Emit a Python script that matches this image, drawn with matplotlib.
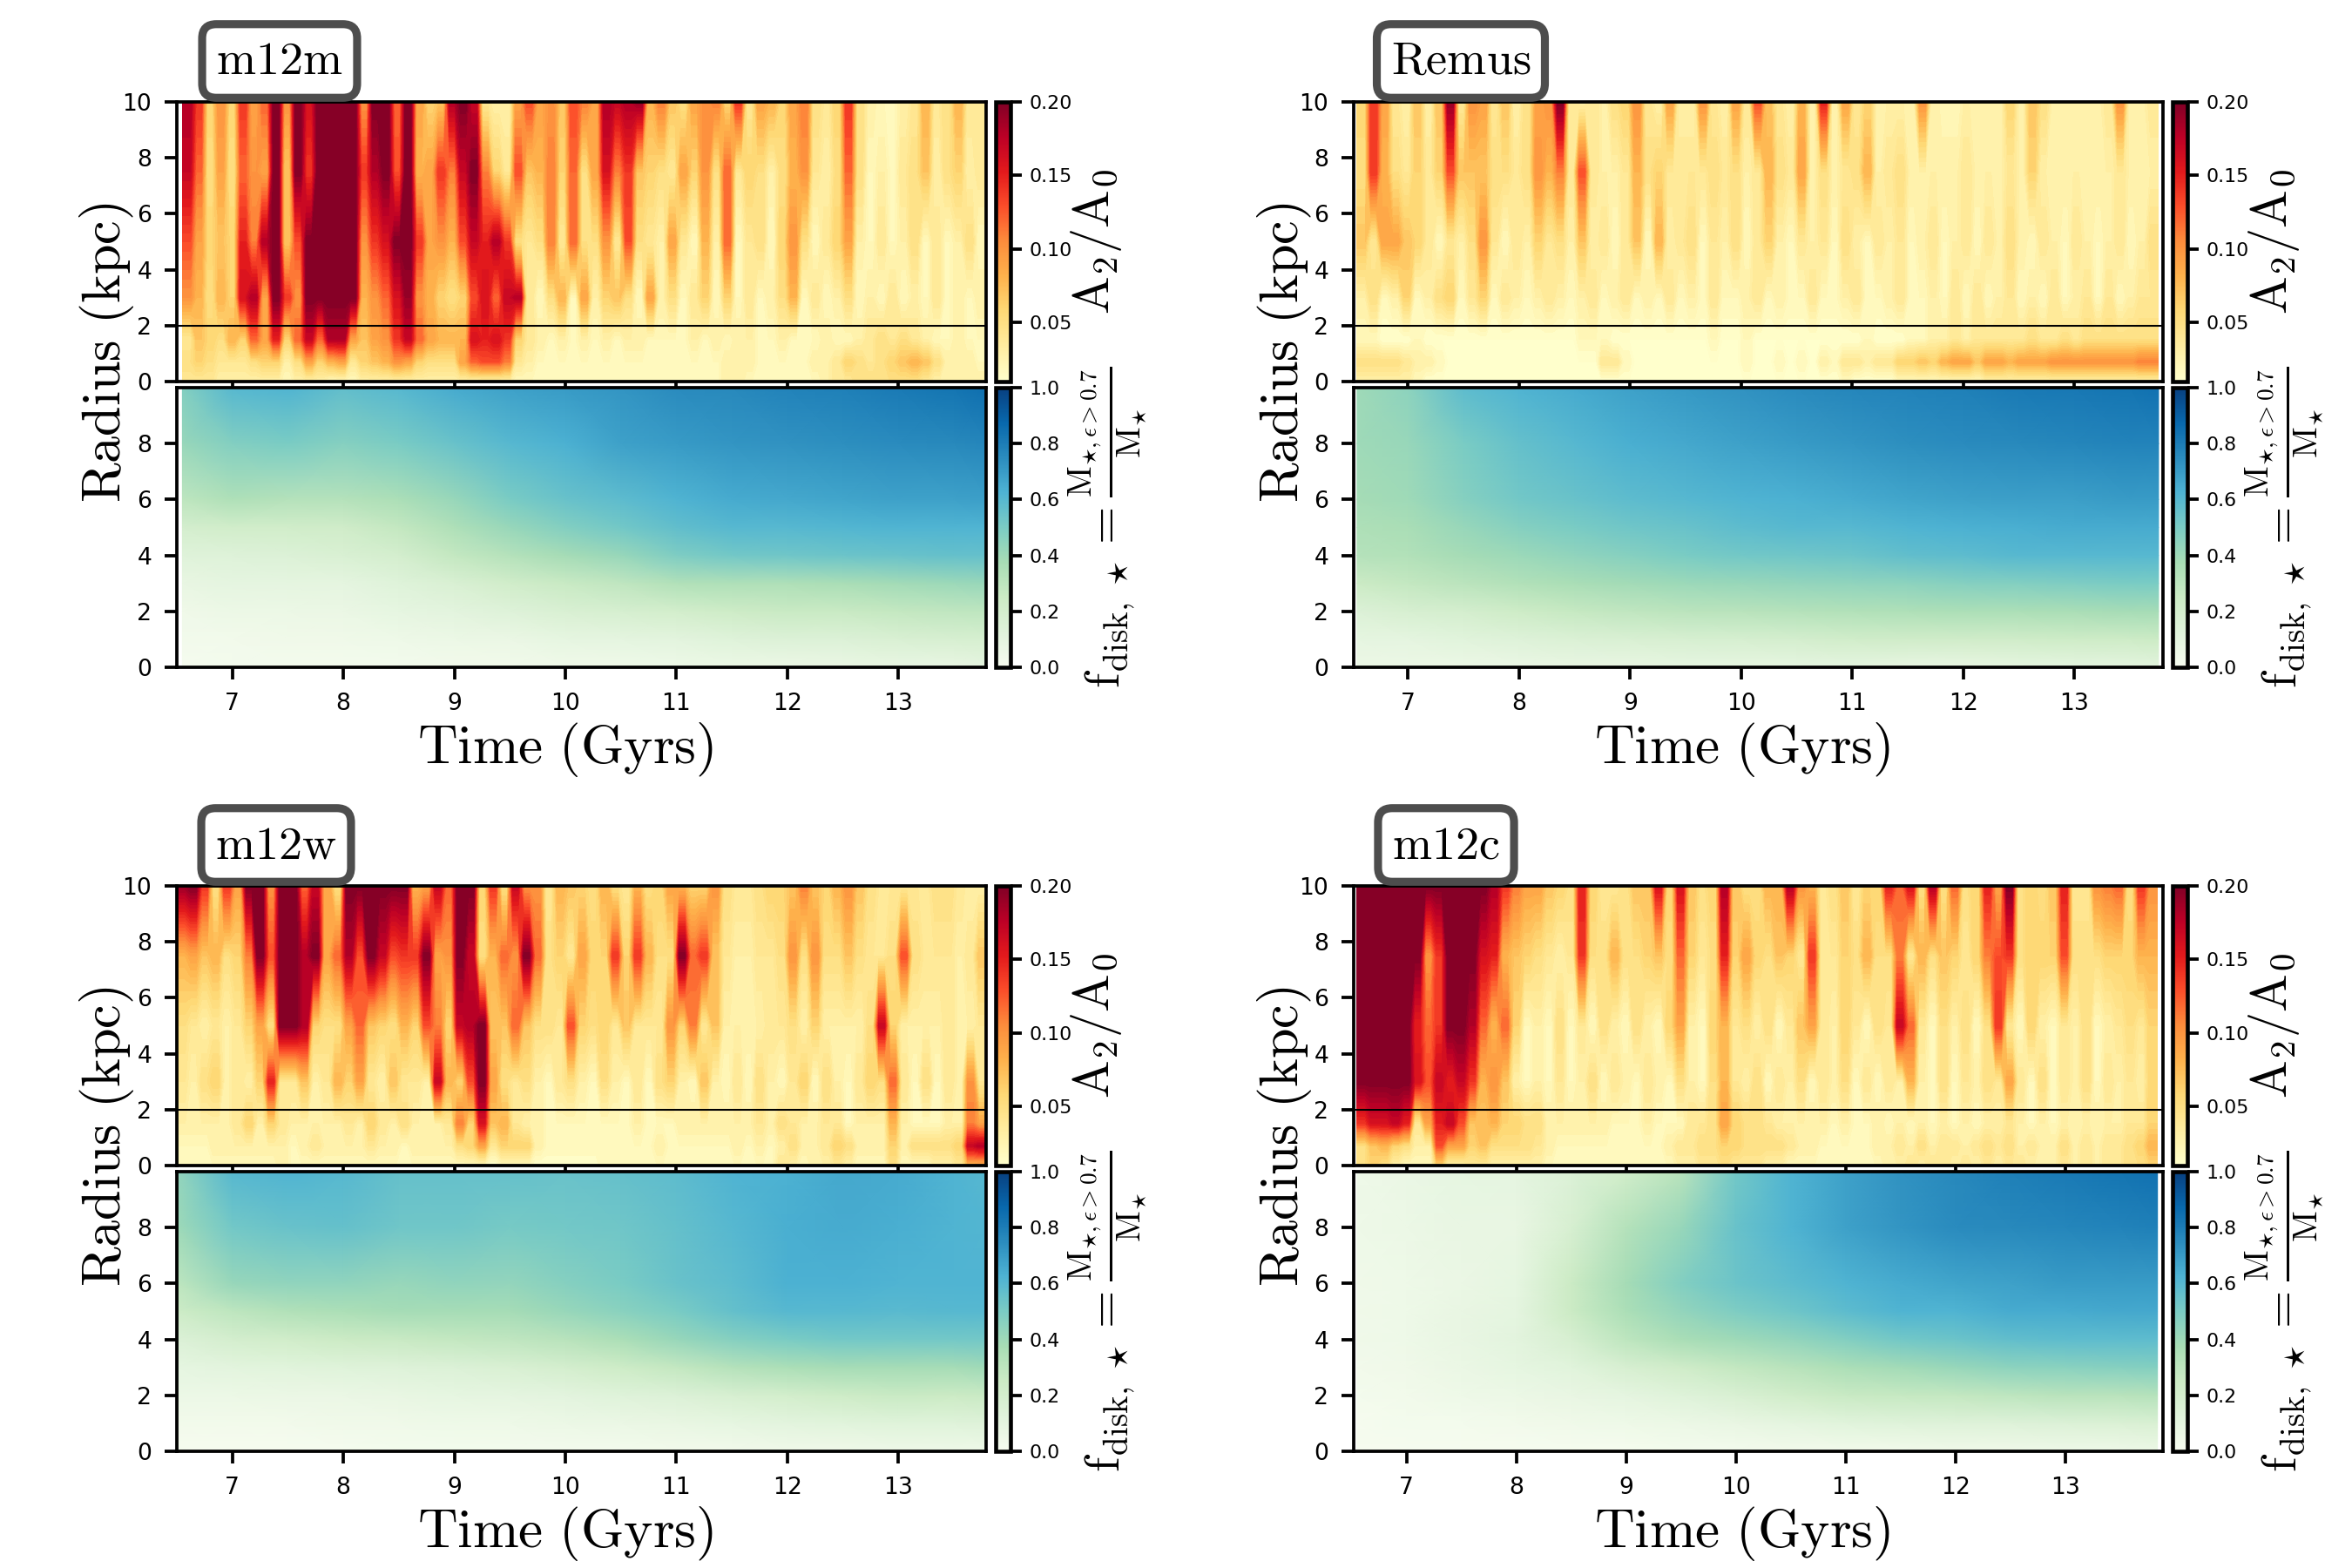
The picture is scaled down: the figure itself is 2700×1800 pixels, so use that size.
import numpy as np
import matplotlib
matplotlib.use("Agg")
import matplotlib.pyplot as plt
from matplotlib.cm import ScalarMappable
from matplotlib.colors import Normalize

plt.rcParams['mathtext.fontset'] = 'cm'

# radii of the rows in the A2 grids, first row is the top of the panel
a2_radii = [10, 7.5, 5, 3, 1.5, 0.7, 0.02]
# A2/A0 in hundredths, one column every 0.1 Gyr
m12m_a2 = [
    [18,14,6,10,6,14,9,12,20,10, 20,16,20,20,20,20,10,20,20,12, 20,9,6,7,18,20,17,4,3,3, 9,13,9,10,7,13,11,9,18,17,
     18,19,8,11,7,5,9,10,11,6, 14,4,9,8,6,9,11,5,4,6, 14,5,3,2,2,3,4,8,4,5, 8,4,4],
    [17,12,5,9,5,12,10,9,20,7, 20,14,20,20,20,20,14,18,20,13, 20,8,9,14,11,17,20,11,6,4, 13,7,8,11,6,12,5,9,16,11,
     14,7,6,5,4,9,6,10,5,12, 4,6,5,3,5,8,10,4,3,5, 12,5,2,3,2,4,5,7,3,5, 6,3,4],
    [13,9,6,7,6,15,11,18,20,7, 13,20,20,20,20,20,10,14,16,20, 20,14,9,10,8,13,17,15,18,14, 5,4,5,11,4,12,5,5,10,4,
     13,5,4,3,9,4,2,8,3,12, 2,4,5,2,6,10,5,2,4,6, 9,3,2,4,2,3,5,2,4,2, 3,5,2],
    [10,8,5,8,6,16,18,9,20,14, 10,20,20,20,20,20,8,10,12,16, 19,10,8,6,5,6,13,16,12,17, 18,4,2,5,8,2,9,3,6,7,
     5,2,9,3,5,2,4,6,2,6, 2,4,2,3,5,8,2,4,2,3, 5,2,3,2,4,2,3,2,4,2, 3,2,3],
    [4,7,6,5,8,6,12,9,15,6, 12,17,12,18,18,9,7,9,10,14, 17,12,9,8,8,8,16,15,16,14, 6,4,3,2,3,2,3,2,3,2,
     3,3,2,2,2,2,3,2,3,2, 3,3,2,2,3,2,2,2,3,2, 2,3,4,5,4,5,4,3,2,2, 3,2,2],
    [5,6,5,4,4,4,5,6,6,3, 5,9,6,8,9,4,6,7,8,10, 9,6,5,5,5,9,12,13,13,11, 4,3,2,2,2,2,2,2,2,2,
     2,2,2,2,2,2,2,2,2,3, 3,3,2,2,2,2,2,3,3,4, 6,5,4,5,6,7,8,7,5,3, 3,3,2],
    [4,4,4,3,3,3,3,3,3,2, 3,3,3,2,2,2,3,3,3,3, 3,3,3,3,3,3,3,3,3,3, 2,2,2,2,2,2,2,2,2,2,
     2,2,2,2,2,2,2,2,2,3, 3,2,2,2,2,2,2,2,3,4, 4,5,5,5,5,5,5,4,3,3, 3,3,3],
]
remus_a2 = [
    [6,14,9,4,3,7,3,7,19,4, 10,9,4,7,3,5,9,10,20,4, 3,4,3,5,6,10,4,3,9,3, 3,10,4,3,9,4,13,7,4,3,
     8,3,15,3,9,4,6,3,3,3, 3,10,3,2,2,3,3,3,3,6, 3,7,5,3,3,3,3,3,4,10, 3,3,4],
    [5,14,8,5,4,6,4,6,13,7, 7,7,5,5,4,5,10,8,11,4, 13,4,3,3,4,8,5,6,4,4, 4,4,5,4,5,3,4,8,5,4,
     9,3,5,3,4,5,8,3,4,5, 3,3,3,3,3,4,3,3,3,4, 3,6,3,3,3,3,3,3,3,4, 3,3,3],
    [7,4,9,9,7,6,4,2,4,3, 5,10,4,2,4,3,6,4,5,3, 7,3,4,2,4,7,2,8,3,4, 5,2,4,3,5,2,4,6,3,2,
     4,3,4,2,5,3,2,4,3,4, 2,3,4,2,3,4,2,4,3,5, 3,2,4,3,2,4,3,2,3,4, 2,3,5],
    [3,5,2,3,6,2,3,5,6,2, 4,6,2,4,3,2,3,4,3,2, 3,4,2,3,4,2,3,2,4,2, 3,2,4,2,2,3,4,2,3,2,
     2,4,2,2,3,4,2,2,3,4, 2,2,3,2,4,2,4,2,3,4, 2,3,2,4,2,3,4,2,4,2, 3,4,4],
    [2,2,1,1,1,2,1,1,1,1, 1,1,1,1,1,1,1,1,1,1, 2,2,2,1,1,1,1,1,1,1, 1,1,2,1,1,2,1,1,1,1,
     1,1,1,1,1,1,2,1,1,1, 2,2,3,3,4,3,4,4,4,4, 4,5,4,4,5,4,5,5,5,5, 5,5,5],
    [5,5,5,5,4,3,3,2,1,1, 1,1,1,1,1,1,1,1,1,1, 1,1,4,4,2,1,1,1,1,1, 1,1,1,1,1,2,1,1,2,1,
     2,1,3,2,4,4,3,4,4,6, 6,7,6,8,9,9,7,9,9,8, 9,9,9,10,10,10,10,10,10,10, 10,11,11],
    [3,3,3,3,3,2,1,1,1,1, 1,1,1,1,1,1,1,1,1,1, 1,1,1,1,1,1,1,1,1,1, 1,1,1,1,1,1,1,1,1,1,
     1,1,1,1,2,1,1,1,1,2, 2,2,2,2,2,2,2,3,3,3, 3,3,3,3,3,3,3,3,3,3, 3,3,3],
]
m12w_a2 = [
    [19,20,14,5,14,9,20,20,10,20, 20,12,17,9,5,20,20,20,20,20, 20,8,9,17,12,20,20,6,14,5, 17,10,10,4,8,7,6,5,8,5,
     4,8,5,6,9,8,6,6,10,5, 4,4,5,6,6,7,11,7,6,8, 10,7,5,4,4,4,4,4,5,5, 4,3,3],
    [8,9,7,8,5,6,11,20,13,20, 20,18,20,9,12,18,13,20,17,13, 14,14,20,9,10,20,17,5,8,12, 10,20,12,5,6,4,9,6,6,14,
     6,14,8,5,5,20,12,14,7,4, 3,3,4,4,5,10,5,10,5,5, 7,5,4,4,5,13,5,4,4,4, 3,4,7],
    [5,4,3,4,3,4,6,9,5,20, 20,18,6,5,5,9,12,7,6,5, 8,6,13,11,6,17,18,20,7,7, 12,7,5,5,4,13,6,5,6,4,
     7,4,4,4,10,6,11,4,7,3, 3,3,3,4,4,5,3,6,3,3, 3,3,5,17,6,3,3,3,3,4, 3,3,4],
    [4,3,5,6,3,4,3,6,15,4, 4,7,3,4,8,6,9,4,3,7, 4,4,3,17,8,6,13,20,9,5, 4,5,3,2,4,5,3,2,5,3,
     2,4,2,5,6,3,2,7,3,2, 4,2,5,3,2,4,6,2,5,3, 2,4,6,5,12,4,2,5,2,4, 3,10,4],
    [3,3,3,3,3,4,6,3,6,4, 3,3,3,3,3,4,3,6,4,3, 5,3,3,3,4,11,6,16,7,8, 4,3,3,2,2,2,2,2,2,2,
     2,3,2,2,2,3,3,3,3,3, 3,3,4,3,5,4,3,3,4,4, 2,3,3,3,8,3,2,2,2,3, 3,11,9],
    [2,2,2,3,3,3,3,3,3,3, 2,3,4,3,3,3,3,4,3,3, 2,3,3,3,3,5,6,9,4,6, 6,6,3,2,2,2,2,2,2,2,
     2,2,2,3,2,2,2,2,2,2, 3,2,3,2,3,5,3,3,4,6, 5,3,3,3,6,3,5,5,5,5, 6,17,18],
    [2,2,2,2,2,2,2,2,2,3, 2,2,2,2,2,2,2,2,2,2, 2,2,2,2,2,2,2,2,1,2, 2,2,1,1,1,1,1,1,2,2,
     2,2,2,2,2,2,2,2,2,2, 2,2,2,2,4,3,2,3,3,4, 3,2,2,2,5,2,2,2,3,3, 4,8,8],
]
m12c_a2 = [
    [20,20,20,20,20,20,20,20,20,20, 20,20,18,14,11,9,9,7,6,5, 15,6,4,4,5,7,7,16,6,16, 7,5,6,18,7,5,5,8,8,18,
     10,8,4,5,7,4,6,6,15,12, 16,5,18,5,12,5,6,15,9,20, 5,6,5,7,15,4,4,10,11,12, 5,14,10],
    [20,20,20,20,20,20,10,14,20,20, 20,16,15,8,7,6,5,4,3,4, 14,5,5,8,5,5,6,7,5,12, 6,4,5,15,6,9,6,5,7,6,
     4,14,4,4,6,5,8,5,5,11, 4,8,5,7,6,4,6,11,13,14, 5,6,6,6,13,5,5,5,6,6, 6,8,8],
    [20,20,20,20,20,15,12,14,20,20, 18,12,8,12,6,2,3,2,5,2, 4,2,5,3,2,5,3,2,6,9, 3,2,6,8,4,5,3,5,2,4,
     7,9,4,3,6,4,2,5,4,17, 12,4,2,5,3,5,2,5,14,4, 2,6,3,2,4,3,5,2,3,4, 5,4,6],
    [20,20,20,20,20,16,13,17,15,17, 14,8,10,7,3,2,3,2,4,2, 3,5,2,4,3,2,4,3,2,5, 3,2,5,8,4,3,5,2,4,3,
     5,2,4,3,5,2,4,2,4,3, 8,3,2,5,2,4,3,5,4,9, 4,2,5,2,4,3,5,2,4,3, 4,3,6],
    [14,16,16,17,15,4,9,15,17,13, 7,7,8,6,6,5,5,3,3,3, 3,3,3,2,2,2,3,2,2,2, 4,4,5,9,6,5,5,4,3,3,
     3,3,3,2,3,2,2,3,2,3, 2,3,2,3,2,3,2,3,3,4, 3,2,3,2,3,3,3,3,3,3, 4,4,6],
    [5,7,8,6,5,3,3,13,9,9, 6,7,5,5,5,5,4,3,2,2, 2,2,2,2,2,2,2,2,3,4, 4,5,5,6,6,5,5,5,5,4,
     3,3,2,2,2,2,2,3,3,4, 3,5,3,4,4,3,4,5,4,5, 3,4,3,3,5,3,4,3,4,4, 5,6,8],
    [5,6,5,3,2,2,2,6,3,3, 4,4,3,3,3,3,3,2,2,2, 2,2,2,2,2,2,2,2,2,3, 3,4,4,5,4,4,4,3,3,2,
     2,2,2,2,2,2,2,2,3,3, 4,3,4,4,3,4,3,4,3,4, 4,3,3,3,4,3,4,3,4,4, 5,5,6],
]

# disk fraction, rows at fd_radii and columns at fd_times
fd_radii = [10, 8, 6, 5, 4, 3, 2, 1, 0]
fd_times = [0, 7, 7.5, 8, 8.5, 9, 9.5, 10, 10.5, 11, 11.5, 12, 12.5, 13, 13.5, 0]
m12m_fd = [
    [.48,.60,.62,.57,.60,.65,.68,.70,.72,.75,.76,.78,.79,.81,.83,.85],
    [.42,.48,.50,.47,.50,.55,.60,.63,.68,.70,.72,.73,.74,.75,.76,.77],
    [.30,.35,.33,.33,.36,.42,.50,.55,.58,.62,.65,.66,.67,.68,.68,.69],
    [.20,.22,.22,.23,.28,.35,.42,.48,.52,.57,.60,.60,.61,.62,.62,.62],
    [.13,.14,.15,.17,.20,.28,.33,.38,.42,.49,.52,.53,.54,.55,.56,.56],
    [.08,.10,.10,.10,.13,.17,.22,.26,.29,.34,.35,.35,.37,.39,.41,.42],
    [.04,.06,.06,.07,.09,.11,.14,.17,.19,.21,.24,.26,.26,.28,.29,.30],
    [.03,.03,.04,.04,.05,.06,.07,.09,.10,.11,.13,.15,.15,.17,.18,.19],
    [.01,.02,.02,.02,.02,.03,.03,.04,.04,.05,.06,.06,.07,.08,.08,.10],
]
remus_fd = [
    [.40,.45,.58,.62,.65,.68,.71,.73,.75,.77,.78,.79,.81,.82,.83,.84],
    [.40,.42,.50,.56,.60,.64,.66,.68,.70,.72,.74,.75,.76,.77,.78,.78],
    [.38,.40,.47,.52,.55,.58,.60,.62,.63,.65,.67,.68,.69,.69,.70,.70],
    [.35,.37,.42,.47,.50,.53,.55,.58,.60,.60,.62,.63,.64,.65,.65,.65],
    [.33,.34,.38,.41,.44,.47,.50,.52,.53,.54,.57,.58,.60,.60,.60,.60],
    [.25,.28,.31,.34,.37,.39,.41,.42,.43,.44,.45,.47,.48,.49,.50,.50],
    [.15,.18,.20,.24,.27,.29,.31,.32,.33,.34,.35,.36,.36,.37,.38,.38],
    [.09,.10,.12,.14,.16,.17,.18,.19,.20,.22,.23,.23,.23,.24,.24,.25],
    [.06,.06,.06,.07,.08,.08,.09,.09,.09,.10,.08,.08,.09,.10,.10,.11],
]
m12w_fd = [
    [.43,.60,.62,.60,.56,.56,.56,.55,.56,.58,.62,.63,.66,.65,.62,.60],
    [.40,.52,.55,.56,.53,.53,.51,.52,.53,.56,.60,.64,.65,.64,.62,.61],
    [.30,.42,.44,.44,.42,.44,.43,.47,.50,.55,.58,.63,.63,.62,.62,.62],
    [.24,.30,.34,.36,.38,.38,.38,.42,.46,.50,.56,.60,.60,.59,.60,.60],
    [.15,.20,.22,.25,.26,.28,.29,.32,.36,.42,.47,.50,.52,.52,.52,.52],
    [.09,.11,.12,.13,.14,.15,.17,.20,.24,.28,.33,.36,.38,.38,.38,.40],
    [.06,.06,.07,.07,.08,.09,.10,.11,.13,.15,.18,.21,.24,.26,.25,.26],
    [.03,.03,.03,.04,.04,.05,.05,.06,.07,.08,.09,.11,.12,.13,.13,.14],
    [.01,.01,.01,.01,.02,.02,.02,.02,.02,.03,.03,.04,.04,.05,.05,.05],
]
m12c_fd = [
    [.05,.07,.09,.10,.15,.22,.32,.52,.62,.68,.73,.76,.79,.81,.83,.84],
    [.05,.06,.08,.08,.18,.33,.42,.55,.62,.68,.72,.75,.76,.77,.78,.79],
    [.04,.05,.07,.09,.25,.38,.48,.54,.58,.62,.65,.67,.68,.70,.70,.70],
    [.04,.05,.08,.10,.25,.36,.43,.49,.53,.58,.62,.62,.65,.65,.66,.66],
    [.04,.05,.08,.11,.18,.30,.37,.40,.43,.48,.52,.54,.57,.58,.58,.58],
    [.03,.04,.07,.09,.12,.18,.23,.28,.32,.36,.39,.42,.45,.46,.47,.48],
    [.02,.03,.05,.06,.08,.10,.13,.17,.22,.26,.27,.28,.30,.32,.32,.33],
    [.01,.02,.02,.03,.04,.05,.06,.08,.10,.12,.13,.14,.14,.15,.16,.17],
    [.01,.01,.01,.01,.01,.01,.02,.02,.03,.03,.03,.04,.04,.05,.05,.06],
]

names = ["m12m", "Remus", "m12w", "m12c"]
a2_grids = [m12m_a2, remus_a2, m12w_a2, m12c_a2]
fd_grids = [m12m_fd, remus_fd, m12w_fd, m12c_fd]
# first and last time of the data, then the axis limits
t_data = [(6.55, 13.79), (6.54, 13.76), (6.5, 13.8), (6.55, 13.84)]
t_lims = [(6.5, 13.79), (6.51, 13.80), (6.5, 13.79), (6.52, 13.89)]
# centre of the name box in pixels
box_x = [321, 1677, 317, 1660]

W, H = 2700, 1800
fig = plt.figure(figsize=(9, 6), dpi=300)


def rect(x0, y0, x1, y1):
    # pixel box (y going down) to figure fractions
    return [x0 / W, 1 - y1 / H, (x1 - x0) / W, (y1 - y0) / H]


def style(ax):
    ax.tick_params(labelsize=6.4, length=3.4, width=0.9)
    for s in ax.spines.values():
        s.set_linewidth(0.9)


for k in range(4):
    dx = 1351 if k % 2 else 0
    dy = 900 if k > 1 else 0

    ax1 = fig.add_axes(rect(203 + dx, 117 + dy, 1132 + dx, 438 + dy))
    ax2 = fig.add_axes(rect(203 + dx, 445 + dy, 1132 + dx, 766 + dy))
    cax1 = fig.add_axes(rect(1143 + dx, 117 + dy, 1160 + dx, 438 + dy))
    cax2 = fig.add_axes(rect(1143 + dx, 445 + dy, 1160 + dx, 766 + dy))

    a2 = np.array(a2_grids[k]) / 100.0
    # each time column keeps a flat middle, contourf blends in data space
    edges = np.linspace(t_data[k][0], t_data[k][1], a2.shape[1] + 1)
    t1 = np.sort(np.r_[edges[:-1] + 0.025, edges[1:] - 0.025])
    t1[0], t1[-1] = t_data[k]
    ax1.contourf(t1, a2_radii, np.repeat(a2, 2, axis=1), levels=np.linspace(0.01, 0.2, 39), cmap="YlOrRd",
                 extend="both")
    ax1.axhline(2, color="k", lw=0.5)
    ax1.set_xlim(t_lims[k])
    ax1.set_ylim(0, 10)
    ax1.set_xticks(range(7, 14))
    ax1.set_xticklabels([])
    ax1.set_yticks([0, 2, 4, 6, 8, 10])
    style(ax1)

    fd = np.array(fd_grids[k])
    t2 = np.array(fd_times, dtype=float)
    t2[0], t2[-1] = t_data[k]
    im2 = ax2.pcolormesh(t2, fd_radii, fd, cmap="GnBu", vmin=0, vmax=1, shading="gouraud", rasterized=True)
    ax2.set_xlim(t_lims[k])
    ax2.set_ylim(0, 10)
    ax2.set_xticks(range(7, 14))
    ax2.set_yticks([0, 2, 4, 6, 8])
    style(ax2)

    cb1 = fig.colorbar(ScalarMappable(Normalize(0.01, 0.2), "YlOrRd"), cax=cax1)
    cb1.set_ticks([0.05, 0.10, 0.15, 0.20])
    cb1.set_ticklabels(["0.05", "0.10", "0.15", "0.20"])
    cb2 = fig.colorbar(im2, cax=cax2)
    cb2.set_ticks([0, 0.2, 0.4, 0.6, 0.8, 1.0])
    for cb in (cb1, cb2):
        cb.ax.tick_params(labelsize=5.3, length=3.2, width=0.9, pad=2)
        cb.outline.set_linewidth(1.1)

    # labels are placed in pixels because they span both panels
    fig.text((123 + dx) / W, 1 - (405 + dy) / H, r"$\mathrm{Radius\ (kpc)}$", rotation=90,
             fontsize=14.9, ha="center", va="center")
    fig.text((649 + dx) / W, 1 - (861 + dy) / H, r"$\mathrm{Time\ (Gyrs)}$",
             fontsize=15.2, ha="center", va="center")
    fig.text((1259 + dx) / W, 1 - (277 + dy) / H, r"$\mathrm{A_2/A_0}$", rotation=90,
             fontsize=14, ha="center", va="center")
    fig.text((1272 + dx) / W, 1 - (605 + dy) / H,
             r"$\mathrm{f_{disk,\,\star}} = \frac{\mathrm{M_{\star,\epsilon>0.7}}}{\mathrm{M_{\star}}}$",
             rotation=90, fontsize=13.4, ha="center", va="center")
    fig.text(box_x[k] / W, 1 - (70 + dy) / H, r"$\mathrm{" + names[k] + "}$", fontsize=13, ha="center", va="center",
             bbox=dict(boxstyle="round,pad=0.3", fc="white", ec="#4d4d4d", lw=2.2))

fig.savefig("out.png", dpi=300)
